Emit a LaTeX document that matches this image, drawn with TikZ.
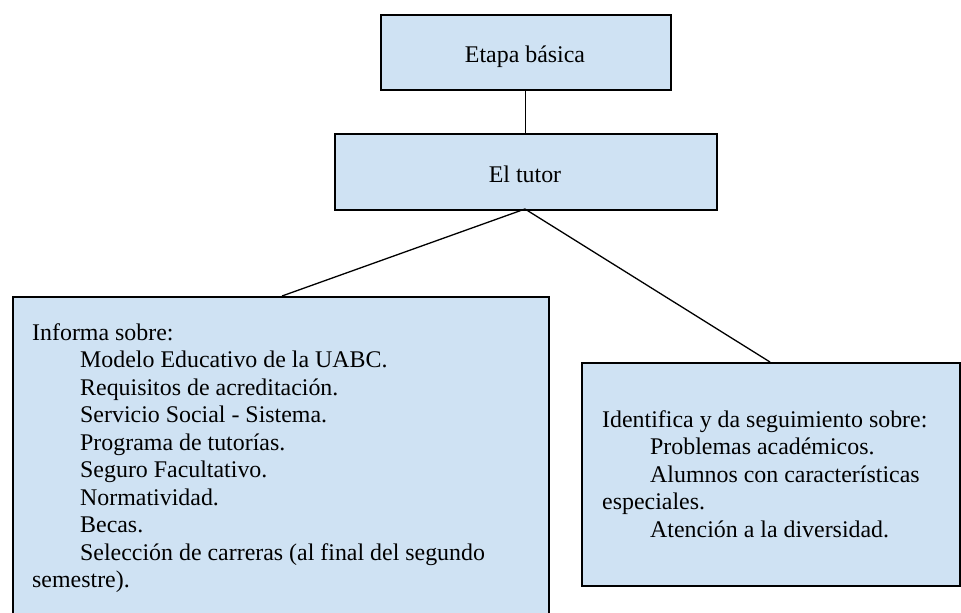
\documentclass[tikz,border=0pt]{standalone}
\usepackage{fontspec}
\setmainfont{Liberation Serif}
\definecolor{boxfill}{RGB}{207,226,243}
\tikzset{
  boxshape/.style={draw=black, line width=1.6pt, fill=boxfill, rectangle, inner sep=0pt, anchor=north west},
  txt/.style={inner sep=0pt, anchor=base west, font=\fontsize{23.9pt}{27.5pt}\selectfont},
  ctxt/.style={inner sep=0pt, anchor=base, font=\fontsize{23.9pt}{27.5pt}\selectfont},
  conn/.style={draw=black, line width=1.3pt}
}
\begin{document}
\begin{tikzpicture}[x=1pt,y=-1pt]
\useasboundingbox (0,0) rectangle (961,613);
% boxes
\node[boxshape, minimum width=290pt, minimum height=75pt] (etapa) at (380,14) {};
\node[boxshape, minimum width=382pt, minimum height=76pt] (tutor) at (334,133) {};
\node[boxshape, minimum width=536pt, minimum height=330pt] (left) at (12,296) {};
\node[boxshape, minimum width=378pt, minimum height=223pt] (right) at (581,362) {};
% connectors
\coordinate (apex) at (525,209);
\coordinate (lend) at (282,296);
\coordinate (rend) at (770,362);
\draw[conn] (etapa.south) -- (tutor.north);
\draw[conn] (apex) -- (lend);
\draw[conn] (apex) -- (rend);
% titles
\node[ctxt] (t1) at (525,62) {Etapa básica};
\node[ctxt] (t2) at (525,182) {El tutor};
% left text
\node[txt] (l0) at (32,340) {Informa sobre:};
\node[txt] (l1) at (80,367.5) {Modelo Educativo de la UABC.};
\node[txt] (l2) at (80,395) {Requisitos de acreditación.};
\node[txt] (l3) at (80,422.5) {Servicio Social - Sistema.};
\node[txt] (l4) at (80,450) {Programa de tutorías.};
\node[txt] (l5) at (80,477.5) {Seguro Facultativo.};
\node[txt] (l6) at (80,505) {Normatividad.};
\node[txt] (l7) at (80,532.5) {Becas.};
\node[txt] (l8) at (80,560) {Selección de carreras (al final del segundo};
\node[txt] (l9) at (32,587.5) {semestre).};
% right text
\node[txt] (r0) at (602,427) {Identifica y da seguimiento sobre:};
\node[txt] (r1) at (650,454.5) {Problemas académicos.};
\node[txt] (r2) at (650,482) {Alumnos con características};
\node[txt] (r3) at (602,509.5) {especiales.};
\node[txt] (r4) at (650,537) {Atención a la diversidad.};
\end{tikzpicture}
\end{document}
